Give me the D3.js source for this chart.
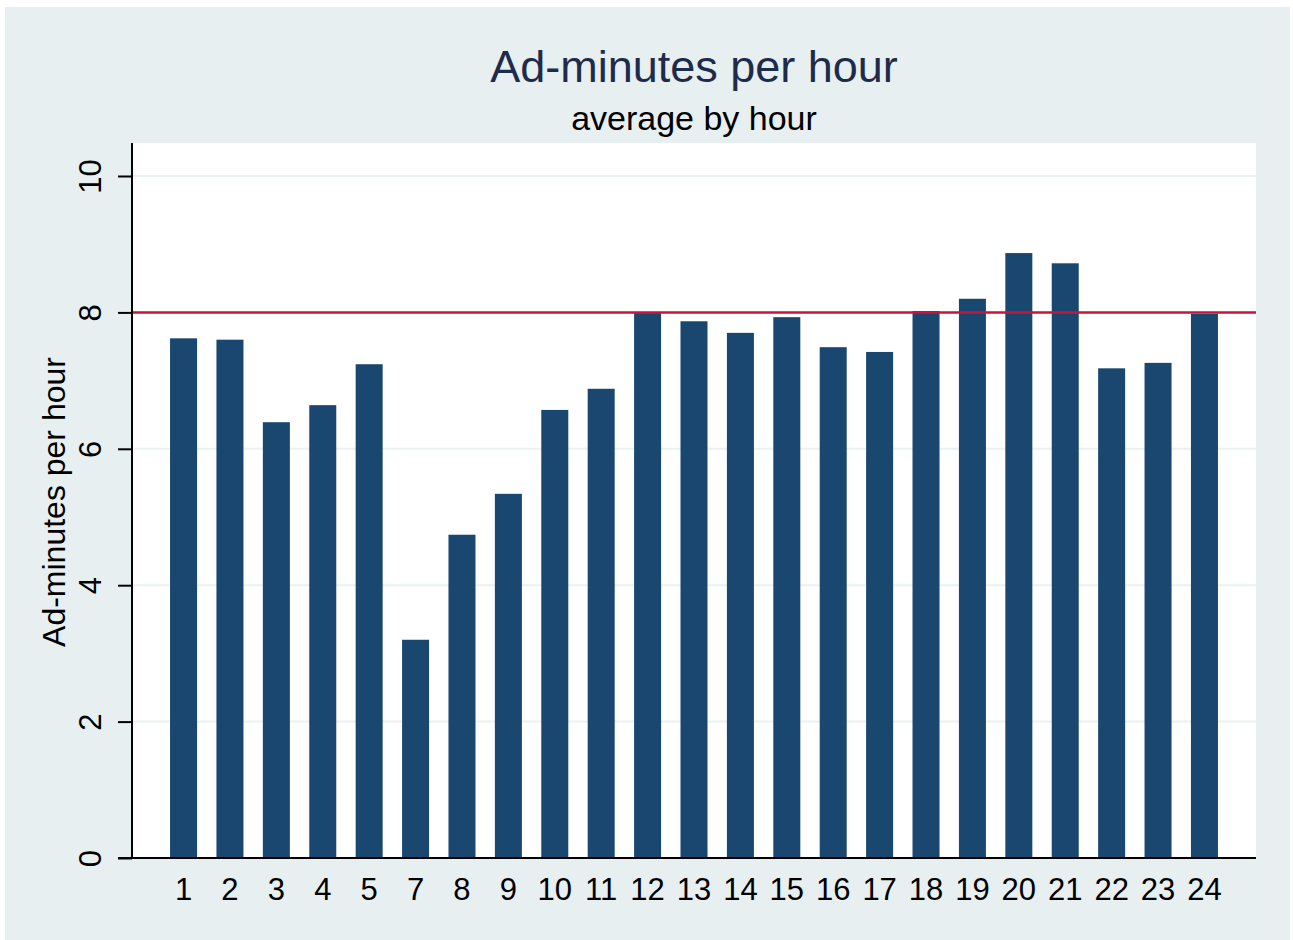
<!DOCTYPE html>
<html>
<head>
<meta charset="utf-8">
<script src="https://cdn.jsdelivr.net/npm/d3@7.9.0/dist/d3.min.js"></script>
<style>
  html, body { margin: 0; padding: 0; background: #fff; }
  svg { display: block; font-family: "Liberation Sans", Arial, sans-serif; }
</style>
</head>
<body>
<svg id="chart" width="1293" height="940"></svg>
<script>
// hours shown (no hour 6 in the data)
const hours = ['1', '2', '3', '4', '5', '7', '8', '9', '10', '11', '12', '13', '14', '15', '16', '17', '18', '19', '20', '21', '22', '23', '24'];
const adMinutes = [7.62, 7.60, 6.39, 6.64, 7.24, 3.20, 4.74, 5.34, 6.57, 6.88, 7.99, 7.87, 7.70, 7.93, 7.49, 7.42, 8.02, 8.20, 8.87, 8.72, 7.18, 7.26, 7.98];
const yTicks = [0, 2, 4, 6, 8, 10];
const refValue = 8;

const svg = d3.select('#chart');

// outer panel
svg.append('rect')
  .attr('x', 5).attr('y', 7)
  .attr('width', 1285).attr('height', 933)
  .attr('fill', '#e8eff1');

const plot = { left: 132, right: 1256, top: 143, bottom: 858 };

svg.append('rect')
  .attr('x', plot.left).attr('y', plot.top)
  .attr('width', plot.right - plot.left).attr('height', plot.bottom - plot.top)
  .attr('fill', '#ffffff');

const x = d3.scaleBand()
  .domain(hours)
  .range([plot.left, plot.right])
  .paddingInner(0.418)
  .paddingOuter(0.82);

const y = d3.scaleLinear()
  .domain([0, 10])
  .range([plot.bottom, 176]);

// gridlines
svg.append('g')
  .selectAll('line')
  .data(yTicks.filter(d => d > 0))
  .join('line')
  .attr('x1', plot.left).attr('x2', plot.right)
  .attr('y1', d => y(d)).attr('y2', d => y(d))
  .attr('stroke', '#eaf2f3')
  .attr('stroke-width', 2);

// bars
svg.append('g')
  .selectAll('rect')
  .data(hours)
  .join('rect')
  .attr('x', d => x(d))
  .attr('width', x.bandwidth())
  .attr('y', (d, i) => y(adMinutes[i]))
  .attr('height', (d, i) => y(0) - y(adMinutes[i]))
  .attr('fill', '#1a476f');

// reference line
svg.append('line')
  .attr('x1', plot.left).attr('x2', plot.right)
  .attr('y1', y(refValue)).attr('y2', y(refValue))
  .attr('stroke', '#c8143c')
  .attr('stroke-width', 2.5);

// y axis
const yAxis = svg.append('g')
  .attr('transform', `translate(${plot.left},0)`)
  .call(d3.axisLeft(y).tickValues(yTicks).tickSize(14).tickPadding(0).tickSizeOuter(0));
yAxis.select('.domain').remove();
yAxis.append('line')
  .attr('x1', 0).attr('x2', 0)
  .attr('y1', plot.top).attr('y2', plot.bottom)
  .attr('stroke', '#000').attr('stroke-width', 2);
yAxis.selectAll('.tick line').attr('stroke', '#000').attr('stroke-width', 2);
yAxis.selectAll('.tick text')
  .attr('font-size', 31)
  .attr('fill', '#000')
  .attr('text-anchor', 'middle')
  .attr('x', null)
  .attr('transform', 'translate(-42,0) rotate(-90)')
  .attr('dy', '0.35em');

// x axis
const xAxis = svg.append('g')
  .attr('transform', `translate(0,${plot.bottom})`)
  .call(d3.axisBottom(x).tickSize(0).tickPadding(20));
xAxis.select('.domain').remove();
xAxis.append('line')
  .attr('x1', 118).attr('x2', plot.right)
  .attr('y1', 0).attr('y2', 0)
  .attr('stroke', '#000').attr('stroke-width', 2);
xAxis.selectAll('.tick text')
  .attr('font-size', 31)
  .attr('fill', '#000');

// axis title
svg.append('text')
  .attr('transform', 'translate(65,502) rotate(-90)')
  .attr('text-anchor', 'middle')
  .attr('font-size', 32)
  .attr('fill', '#000')
  .text('Ad-minutes per hour');

// titles
svg.append('text')
  .attr('x', 694).attr('y', 82)
  .attr('text-anchor', 'middle')
  .attr('font-size', 45)
  .attr('fill', '#1e2b4b')
  .text('Ad-minutes per hour');

svg.append('text')
  .attr('x', 694).attr('y', 130)
  .attr('text-anchor', 'middle')
  .attr('font-size', 34)
  .attr('fill', '#000')
  .text('average by hour');
</script>
</body>
</html>
